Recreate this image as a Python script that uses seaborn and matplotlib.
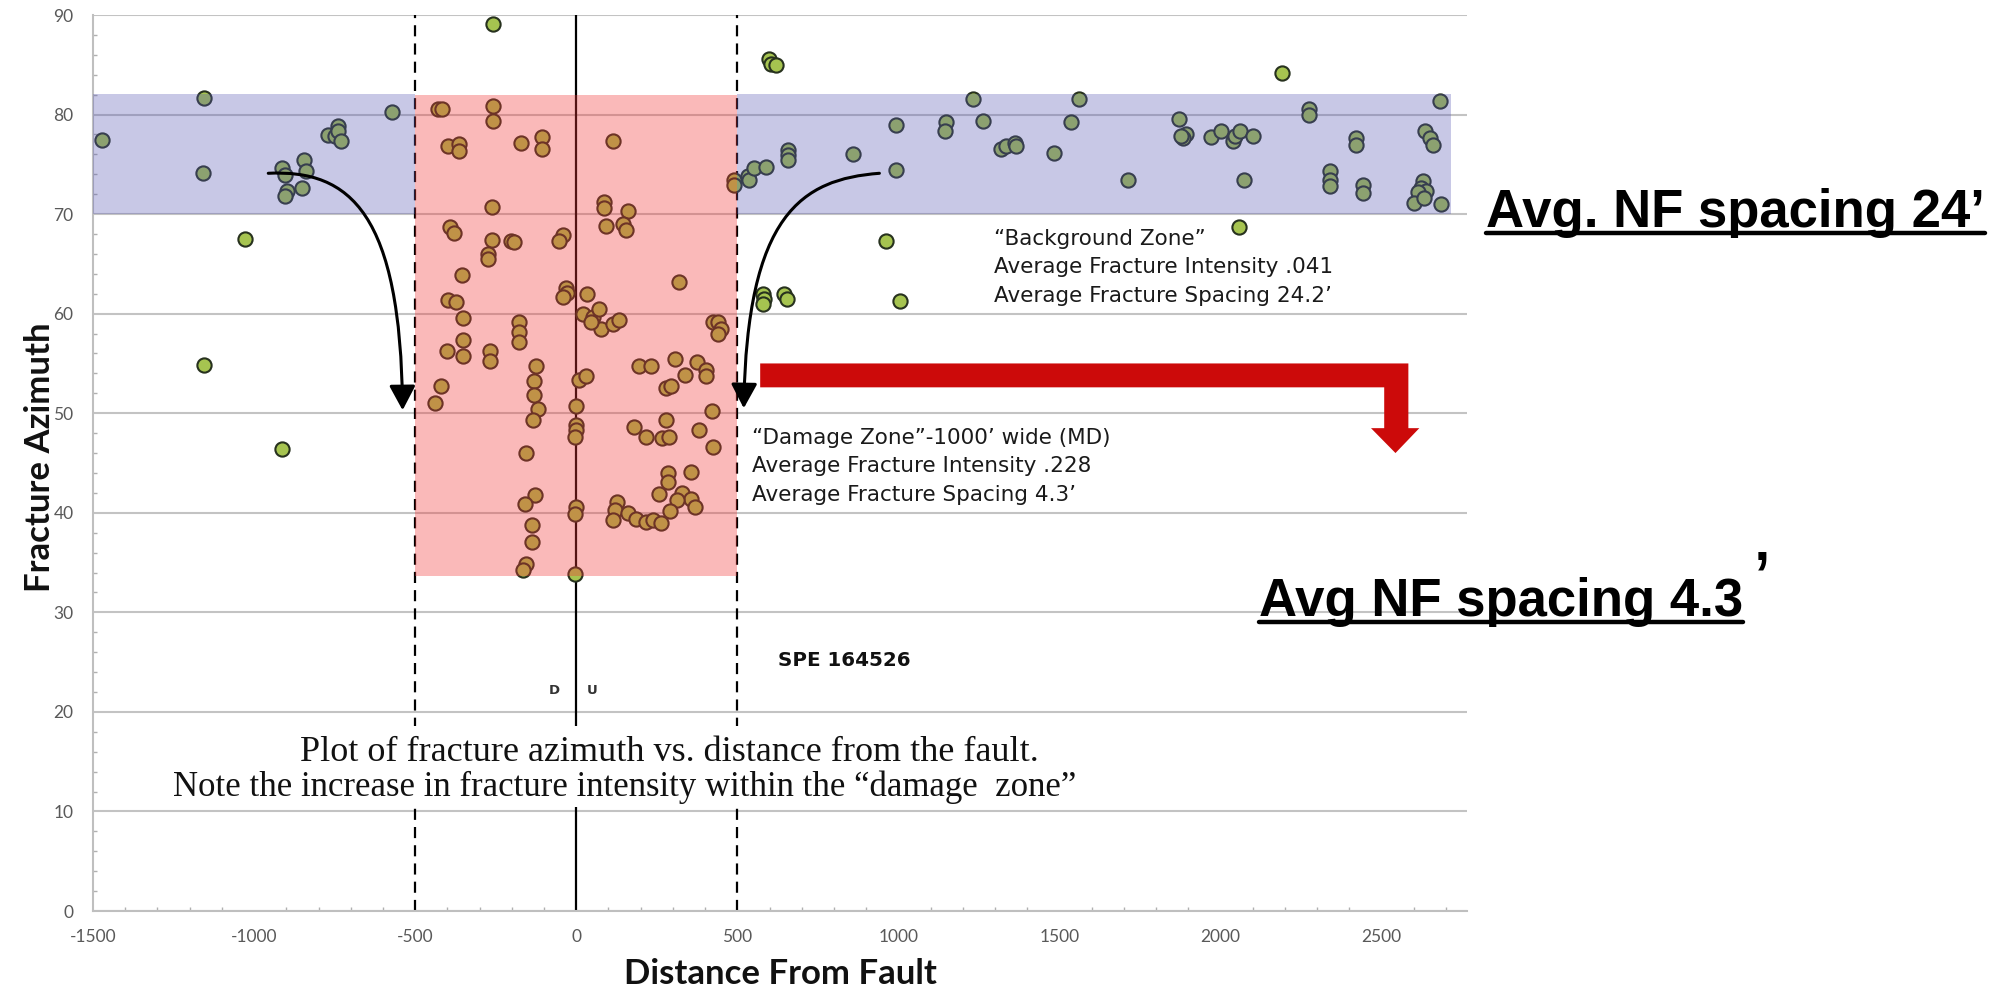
import matplotlib
matplotlib.use("Agg")
import numpy as np
import pandas as pd
import matplotlib.pyplot as plt
import seaborn as sns
from matplotlib.patches import FancyArrowPatch, Polygon
from matplotlib.path import Path
from matplotlib.lines import Line2D
import matplotlib.ticker as mticker

# ---------------------------------------------------------------------------
# Fracture observations: distance from the fault (ft) and fracture azimuth (deg)
# ---------------------------------------------------------------------------
west_dist = [-1472, -1155, -1157, -1029, -1155, -912, -912, -904, -898, -904,
             -845, -838, -850, -769, -750, -738, -738, -731, -572]
west_azim = [77.4, 81.7, 74.1, 67.5, 54.8, 46.4, 74.6, 73.9, 72.3, 71.8,
             75.4, 74.3, 72.6, 77.9, 77.8, 78.9, 78.3, 77.3, 80.3]

damage_dist = [-258, -428, -418, -258, -258, -397, -363, -363, -172, -107,
               -107, 115, -262, -392, -379, -260, -275, -275, -203, -193,
               -42, -53, -355, 87, 87, 162, 92, 144, 154, 318,
               491, 489, -32, -30, -42, 32, -397, -372, -350, -353,
               -402, -353, -268, -268, -177, -177, -177, -125, -130, -130,
               -120, -134, -420, -438, -156, -127, -158, -138, -138, -156,
               -165, -3, 0, -3, 0, -2, -2, -4, 9, 30,
               20, 51, 71, 77, 113, 134, 46, 196, 232, 307,
               375, 339, 403, 403, 279, 294, 421, 279, 180, 218,
               266, 289, 380, 423, 284, 284, 356, 256, 328, 356,
               370, 313, 291, 128, 121, 113, 162, 187, 216, 239,
               263, 423, 440, 449, 440]
damage_azim = [89.1, 80.6, 80.6, 80.9, 79.4, 76.8, 77.0, 76.3, 77.1, 77.7,
               76.5, 77.3, 70.7, 68.7, 68.1, 67.4, 66.0, 65.5, 67.3, 67.2,
               67.9, 67.3, 63.9, 71.2, 70.6, 70.3, 68.8, 69.0, 68.4, 63.2,
               73.4, 72.9, 62.6, 62.1, 61.7, 62.0, 61.4, 61.2, 59.6, 57.4,
               56.2, 55.7, 56.3, 55.2, 59.2, 58.2, 57.2, 54.7, 53.2, 51.8,
               50.4, 49.3, 52.7, 51.0, 46.0, 41.8, 40.9, 38.8, 37.1, 34.9,
               34.3, 33.9, 40.6, 39.9, 50.7, 48.8, 48.3, 47.6, 53.3, 53.7,
               60.0, 59.7, 60.5, 58.5, 59.0, 59.4, 59.2, 54.7, 54.7, 55.4,
               55.1, 53.8, 54.3, 53.7, 52.5, 52.7, 50.2, 49.3, 48.6, 47.6,
               47.5, 47.6, 48.3, 46.6, 44.0, 43.1, 44.1, 41.9, 42.0, 41.4,
               40.6, 41.3, 40.2, 41.1, 40.3, 39.3, 40.0, 39.4, 39.1, 39.3,
               39.0, 59.2, 59.2, 58.5, 58.0]

east_dist = [532, 537, 553, 589, 597, 605, 620, 656, 658, 656,
             860, 993, 993, 1148, 1146, 1231, 1262, 1319, 1334, 1363,
             1365, 1484, 1536, 1560, 960, 580, 582, 580, 646, 653,
             1005, 1712, 1870, 1893, 1883, 1878, 1971, 2002, 2038, 2044,
             2059, 2100, 2072, 2057, 2191, 2276, 2276, 2341, 2341, 2341,
             2421, 2421, 2442, 2442, 2680, 2634, 2649, 2659, 2628, 2623,
             2639, 2613, 2602, 2633, 2685]
east_azim = [73.8, 73.4, 74.6, 74.7, 85.6, 85.1, 85.0, 76.4, 75.9, 75.4,
             76.0, 79.0, 74.4, 79.3, 78.3, 81.6, 79.4, 76.5, 76.8, 77.1,
             76.8, 76.1, 79.3, 81.6, 67.3, 62.0, 61.5, 61.0, 62.0, 61.5,
             61.3, 73.4, 79.6, 78.0, 77.6, 77.8, 77.7, 78.3, 77.3, 77.8,
             78.3, 77.8, 73.4, 68.7, 84.2, 80.6, 80.0, 74.3, 73.4, 72.8,
             77.6, 76.9, 72.9, 72.1, 81.4, 78.3, 77.6, 76.9, 73.3, 72.6,
             72.3, 72.2, 71.1, 71.6, 71.0]

x_ticks = [-1500, -1000, -500, 0, 500, 1000, 1500, 2000, 2500]
y_ticks = [0, 10, 20, 30, 40, 50, 60, 70, 80, 90]

# zone limits (ft / deg)
damage_half_width = 500
background_band = (70.0, 82.1)
damage_box = (33.65, 82.0)

df = pd.DataFrame({
    "distance": west_dist + damage_dist + east_dist,
    "azimuth": west_azim + damage_azim + east_azim,
})

# ---------------------------------------------------------------------------
sns.set_theme(style="white")
plt.rcParams["font.family"] = ["Lato", "DejaVu Sans"]
plt.rcParams["axes.unicode_minus"] = False

fig = plt.figure(figsize=(20.15, 9.91), dpi=100)
ax = fig.add_axes([93 / 2015, 80 / 991, 1374 / 2015, 896 / 991])
ax.set_xlim(-1500, 2765)
ax.set_ylim(0, 90)

grid_c = "#c3c3c3"
ax.yaxis.grid(True, color=grid_c, lw=1.5, zorder=0)
ax.xaxis.grid(False)
ax.set_axisbelow(True)

# fault trace and damage-zone boundaries
ax.axvline(0, color="black", lw=1.6, zorder=2)
for xb in (-damage_half_width, damage_half_width):
    ax.axvline(xb, color="black", lw=1.6, ls=(0, (5, 3.2)), zorder=2)

sns.scatterplot(data=df, x="distance", y="azimuth", ax=ax, s=105,
                color="#a6c450", edgecolor="#27311e", linewidth=1.5,
                legend=False, zorder=3)

# translucent zone overlays
blue = (90 / 255, 90 / 255, 180 / 255)
ax.fill_between([-1500, -damage_half_width], *background_band,
                color=blue, alpha=0.33, lw=0, zorder=4)
ax.fill_between([damage_half_width, 2716], *background_band,
                color=blue, alpha=0.33, lw=0, zorder=4)
ax.fill_between([-damage_half_width, damage_half_width], *damage_box,
                color=(241 / 255, 55 / 255, 55 / 255), alpha=0.35, lw=0, zorder=4)

# axes styling
for side in ("top", "right"):
    ax.spines[side].set_visible(False)
for side in ("left", "bottom"):
    ax.spines[side].set_color("#bfbfbf")
    ax.spines[side].set_linewidth(1.5)
ax.set_xticks(x_ticks)
ax.set_yticks(y_ticks)
ax.xaxis.set_minor_locator(mticker.MultipleLocator(100))
ax.yaxis.set_minor_locator(mticker.MultipleLocator(2))
ax.tick_params(axis="x", which="major", direction="inout", length=7.5, width=1.2,
               color="#a6a6a6", labelsize=12.5, labelcolor="#595959", pad=9)
ax.tick_params(axis="x", which="minor", direction="in", length=3, width=1.0,
               color="#b0b0b0", bottom=True)
ax.tick_params(axis="y", which="major", direction="out", length=4.5, width=1.2,
               color="#a6a6a6", labelsize=12.5, labelcolor="#595959", pad=9.5)
ax.tick_params(axis="y", which="minor", direction="in", length=3, width=1.0,
               color="#b0b0b0", left=True)

ax.set_xlabel("Distance From Fault", fontsize=25, fontweight="bold",
              color="#111111")
ax.set_ylabel("Fracture Azimuth", fontsize=25, fontweight="bold",
              color="#111111")
ax.xaxis.set_label_coords(0.5, -0.052)
ax.yaxis.set_label_coords(-0.027, 0.507)

# caption on a white backing strip
serif = ["Liberation Serif", "DejaVu Serif"]
ax.fill_between([-1300, 1600], 10.45, 18.55, color="white", lw=0, zorder=5)
ax.text(288, 15.9, "Plot of fracture azimuth vs. distance from the fault.",
        ha="center", va="center", family=serif, fontsize=26, color="#111111",
        zorder=6)
ax.text(151, 12.4,
        "Note the increase in fracture intensity within the \u201cdamage  zone\u201d",
        ha="center", va="center", family=serif, fontsize=25, color="#111111",
        zorder=6)

# zone annotations
note_kw = dict(family=["DejaVu Sans"], fontsize=15.5, color="#1a1a1a",
               ha="left", va="baseline", zorder=7)
bg_lines = ["\u201cBackground Zone\u201d",
            "Average Fracture Intensity .041",
            "Average Fracture Spacing 24.2\u2019"]
for i, line in enumerate(bg_lines):
    ax.text(1298, 66.9 - 2.85 * i, line, **note_kw)
dz_lines = ["\u201cDamage Zone\u201d-1000\u2019 wide (MD)",
            "Average Fracture Intensity .228",
            "Average Fracture Spacing 4.3\u2019"]
for i, line in enumerate(dz_lines):
    ax.text(545, 46.9 - 2.85 * i, line, **note_kw)

ax.text(625, 24.6, "SPE 164526", family=["DejaVu Sans"], fontsize=14.3,
        fontweight="bold", color="#111111", ha="left", va="baseline", zorder=7)
ax.text(-69, 22.1, "D", family=["DejaVu Sans"], fontsize=9.5, fontweight="bold",
        color="#333333", ha="center", va="center", zorder=7)
ax.text(49, 22.1, "U", family=["DejaVu Sans"], fontsize=9.5, fontweight="bold",
        color="#333333", ha="center", va="center", zorder=7)

# curved black arrows from the background band into the damage zone
curve_left = [(-956, 74.1), (-700, 74.5), (-545, 70.0), (-539, 50.3)]
curve_right = [(941, 74.1), (700, 73.5), (530, 70.0), (520, 50.5)]
for pts in (curve_left, curve_right):
    path = Path(pts, [Path.MOVETO, Path.CURVE4, Path.CURVE4, Path.CURVE4])
    arr = FancyArrowPatch(path=path, arrowstyle="-|>,head_length=0.75,head_width=0.4",
                          mutation_scale=20, color="black", lw=2.2,
                          shrinkA=0, shrinkB=0, zorder=7)
    ax.add_patch(arr)

# red bent arrow
red_arrow = [(571, 55.0), (2583, 55.0), (2583, 48.5), (2617, 48.5), (2543, 46.0),
             (2467, 48.5), (2508, 48.5), (2508, 52.6), (571, 52.6)]
ax.add_patch(Polygon(red_arrow, closed=True, facecolor="#cc0a0a",
                     edgecolor="none", zorder=7))

# headline call-outs at the right
big_kw = dict(family=["Liberation Sans", "DejaVu Sans"], fontsize=38,
              fontweight="bold", color="black", ha="left", va="baseline")
t1 = fig.text(1486 / 2015, 1 - 227 / 991, "Avg. NF spacing 24\u2019", **big_kw)
t2 = fig.text(1259 / 2015, 1 - 616 / 991, "Avg NF spacing 4.3", **big_kw)
fig.text(1753 / 2015, 1 - 609 / 991, "\u2019", family=["Liberation Sans", "DejaVu Sans"],
         fontsize=60, color="black", ha="left", va="baseline")

fig.canvas.draw()
renderer = fig.canvas.get_renderer()
W, H = fig.bbox.width, fig.bbox.height
for t, base_px in ((t1, 227), (t2, 616)):
    bb = t.get_window_extent(renderer)
    yl = 1 - (base_px + 6) / 991
    fig.add_artist(Line2D([bb.x0 / W, bb.x1 / W], [yl, yl],
                          transform=fig.transFigure, color="black", lw=3.2))

fig.savefig("out.png", dpi=100, facecolor="white")
